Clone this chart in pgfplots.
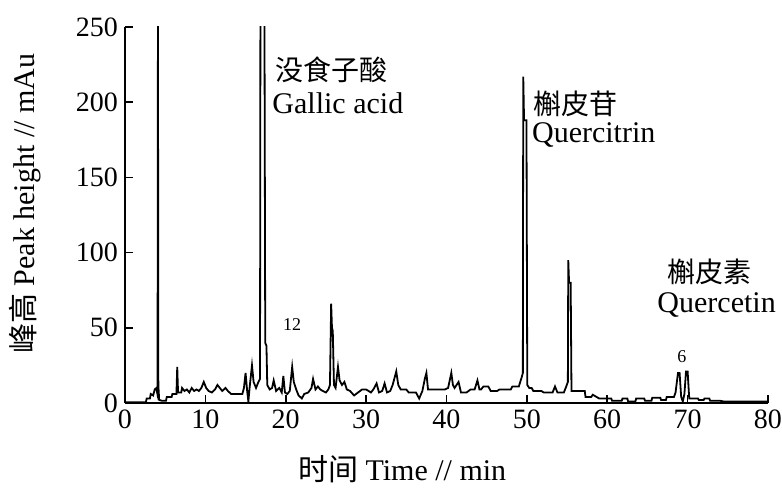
\documentclass[border=0pt]{standalone}
\usepackage{pgfplots}
\pgfplotsset{compat=1.18}
\usepackage{fontspec}
\setmainfont{Liberation Serif}
\newfontfamily\cjk{Noto Sans CJK SC}
\usetikzlibrary{calc}
\begin{document}
\begin{tikzpicture}
\begin{axis}[
 scale only axis, width=321.5pt, height=188pt,
 xmin=0, xmax=80, ymin=0, ymax=250,
 axis x line*=bottom, axis y line*=left,
 axis line style={line width=1.3pt, -},
 xtick={0,10,...,80}, ytick={0,50,...,250},
 tick align=inside, major tick length=4pt,
 tick style={line width=0.8pt, black},
 ticklabel style={font=\fontsize{14}{16}\selectfont},
 /pgf/number format/assume math mode=true,
 xlabel={{\cjk 时间} Time // min},
 ylabel={{\cjk 峰高} Peak height // mAu},
 label style={font=\fontsize{15}{17}\selectfont},
 xlabel style={at={(axis description cs:0.431,-0.1755)}, anchor=center},
 ylabel style={at={(axis description cs:-0.1555,0.53)}, anchor=center, rotate=0},
 clip mode=individual,
]
\addplot[black, line width=0.9pt] coordinates {
(0,0.5) (2.6,0.5) (2.7,3) (3.1,3) (3.2,6) (3.5,5) (3.7,9) (3.9,10) (4.0,7) (4.05,12) (4.1,260) (4.15,12) (4.25,2) (4.6,1.5) (5.1,1.5) (5.2,4) (5.8,4) (5.9,6) (6.4,6) (6.5,24) (6.6,7) (7.0,7) (7.1,10) (7.4,8) (7.7,9) (8.0,7) (8.3,10) (8.6,8) (8.9,9) (9.2,8) (9.5,10) (9.8,14) (10.1,10) (10.4,8) (10.8,7) (11.2,9) (11.5,12) (11.8,10) (12.1,8) (12.5,10) (12.8,8) (13.2,6) (14.6,6) (14.8,10) (15.0,20) (15.2,8) (15.35,1) (15.5,10) (15.8,25) (16.0,14) (16.3,10) (16.6,14) (16.8,16) (16.85,260) (17.35,260) (17.45,40) (17.6,38) (17.7,12) (18.0,9) (18.3,10) (18.5,15) (18.8,8) (19.2,10) (19.5,7) (19.7,18) (19.9,7) (20.2,6) (20.5,8) (20.8,24) (21.0,14) (21.3,9) (21.6,5) (22.0,3) (22.3,6) (22.8,7) (23.2,10) (23.4,16) (23.7,9) (24.0,11) (24.3,9) (24.6,8) (25.0,7) (25.3,9) (25.5,12) (25.65,66) (25.75,50) (25.85,48) (26.0,12) (26.2,10) (26.5,24) (26.7,15) (27.0,12) (27.3,14) (27.6,9) (28.0,8) (28.5,5) (29.0,7) (29.5,9)
(30.0,9) (30.6,7) (30.9,9) (31.3,13) (31.6,7) (32.0,8) (32.3,13) (32.6,7) (33.0,8) (33.3,12) (33.75,21) (34.0,12) (34.3,9) (35.0,9) (35.3,7) (36.2,7) (36.6,3) (37.0,8) (37.3,16) (37.5,20) (37.7,9) (39.8,9) (40.2,10) (40.6,20) (40.8,12) (41.0,10) (41.5,14) (41.8,7) (42.5,7) (43.0,9) (43.5,9) (43.85,15) (44.1,9) (44.3,9) (44.6,11) (45.2,11) (45.5,8) (46.3,8) (46.6,9) (48.0,9) (48.2,11) (49.0,11) (49.35,17) (49.5,20) (49.55,217) (49.65,188) (49.95,188) (50.05,12) (50.3,10) (50.6,10) (50.8,8) (51.8,8) (52.1,7) (53.2,7) (53.5,11) (53.8,7) (54.6,7) (54.9,11) (55.1,14) (55.15,95) (55.25,80) (55.45,80) (55.55,8) (57.2,8) (57.3,4) (58,4) (58.2,5.5) (59,3)
(60.5,3) (60.6,1.5) (61.8,1.5) (61.9,3) (62.5,3) (62.6,1) (63.5,1) (63.6,3) (64.6,3) (64.7,1.5) (65.5,1.5) (65.6,3.5) (66.6,3.5) (66.7,2) (67.3,2) (67.4,4) (68.3,4) (68.5,7) (68.8,20) (69.0,20) (69.2,4) (69.4,1) (69.6,6) (69.8,21) (70.0,21) (70.2,3) (71.3,3) (71.4,2) (72.0,2) (72.1,3) (72.7,3) (72.8,1.5) (74,1.5) (74.5,1) (80,1)
};
\node[anchor=west, font=\cjk\fontsize{14}{16}\selectfont, inner sep=0pt] at (axis cs:18.65,221.5) {没食子酸};
\node[anchor=west, font=\fontsize{15}{17}\selectfont, inner sep=0pt] at (axis cs:18.3,199) {Gallic acid};
\node[anchor=west, font=\cjk\fontsize{14}{16}\selectfont, inner sep=0pt] at (axis cs:50.75,199) {槲皮苷};
\node[anchor=west, font=\fontsize{15}{17}\selectfont, inner sep=0pt] at (axis cs:50.6,178) {Quercitrin};
\node[anchor=west, font=\cjk\fontsize{14}{16}\selectfont, inner sep=0pt] at (axis cs:67.5,87.5) {槲皮素};
\node[anchor=west, font=\fontsize{15}{17}\selectfont, inner sep=0pt] at (axis cs:66.2,65) {Quercetin};
\node[font=\fontsize{9}{10}\selectfont, inner sep=0pt] at (axis cs:20.8,52) {12};
\node[font=\fontsize{9}{10}\selectfont, inner sep=0pt] at (axis cs:69.3,31) {6};
\coordinate (bl) at (rel axis cs:0,0);
\coordinate (tr) at (rel axis cs:1,1);
\end{axis}
\pgfresetboundingbox
\path ($(bl)+(-62.5pt,-44.5pt)$) rectangle ($(tr)+(7pt,13.5pt)$);
\end{tikzpicture}
\end{document}
